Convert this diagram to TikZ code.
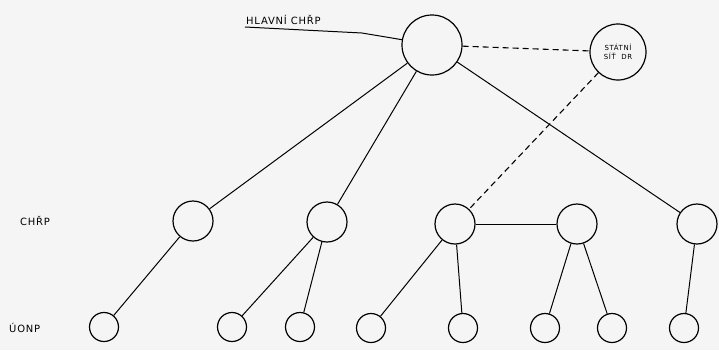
\documentclass[tikz,border=0pt]{standalone}
\usepackage{fontspec}
\setmainfont{DejaVu Sans}[LetterSpace=8]
\begin{document}
\begin{tikzpicture}[x=1bp,y=-1bp,
  nd/.style={circle,draw,line width=1.2pt,inner sep=0pt},
  big/.style={nd,minimum size=60bp},
  mid/.style={nd,minimum size=40bp},
  sml/.style={nd,minimum size=29bp},
  ln/.style={line width=1pt},
  dsh/.style={line width=1.1pt,dash pattern=on 6bp off 4bp},
  lbl/.style={font=\fontsize{10}{11}\selectfont,inner sep=0pt}]
\fill[gray!8] (0,0) rectangle (719,350);
\useasboundingbox (0,0) rectangle (719,350);
\node[big] (top) at (432,45) {};
\node[nd,minimum size=56bp,align=center,font=\fontsize{7}{9}\selectfont] (st) at (618,52) {STÁTNÍ\\SÍŤ\ \ DR};
\node[mid] (m1) at (193,221) {};
\node[mid] (m2) at (327,222) {};
\node[mid] (m3) at (455,224) {};
\node[mid] (m4) at (577,224) {};
\node[mid] (m5) at (697,224) {};
\node[sml] (b1) at (104,327) {};
\node[sml] (b2) at (232,327) {};
\node[sml] (b3) at (300,327) {};
\node[sml] (b4) at (371,328) {};
\node[sml] (b5) at (463,328) {};
\node[sml] (b6) at (545,328) {};
\node[sml] (b7) at (612,328) {};
\node[sml] (b8) at (684,328) {};
\node[lbl,anchor=base west] (hl) at (246,24) {HLAVNÍ CHŘP};
\node[lbl,anchor=base west] (lc) at (20,225) {CHŘP};
\node[lbl,anchor=base west] (lu) at (9,332) {ÚONP};
\coordinate (u1) at (245,27);
\coordinate (u2) at (362,33);
\draw[ln] (u1) -- (u2) -- (top.170);
\draw[ln] (top) -- (m1);
\draw[ln] (top) -- (m2);
\draw[ln] (top) -- (m5);
\draw[dsh] (top) -- (st);
\draw[dsh] (st) -- (m3);
\draw[ln] (m3) -- (m4);
\draw[ln] (m1) -- (b1);
\draw[ln] (m2) -- (b2);
\draw[ln] (m2) -- (b3);
\draw[ln] (m3) -- (b4);
\draw[ln] (m3) -- (b5);
\draw[ln] (m4) -- (b6);
\draw[ln] (m4) -- (b7);
\draw[ln] (m5) -- (b8);
\end{tikzpicture}
\end{document}
